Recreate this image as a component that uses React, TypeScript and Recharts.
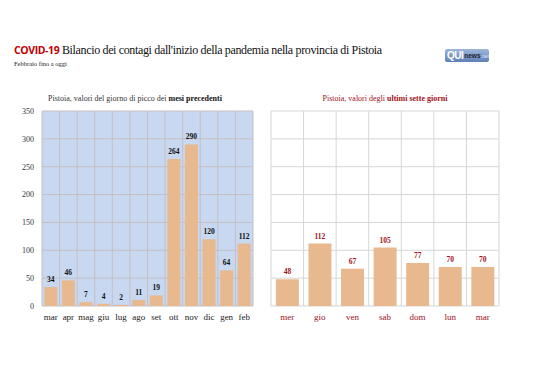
import React from "react"
import { Bar, BarChart, CartesianGrid, LabelList, XAxis, YAxis } from "recharts"

const months = ["mar", "apr", "mag", "giu", "lug", "ago", "set", "ott", "nov", "dic", "gen", "feb"]
const monthPeaks = [34, 46, 7, 4, 2, 11, 19, 264, 290, 120, 64, 112]

const days = ["mer", "gio", "ven", "sab", "dom", "lun", "mar"]
const dayValues = [48, 112, 67, 105, 77, 70, 70]

const yTicks = [0, 50, 100, 150, 200, 250, 300, 350]

const monthData = months.map((m, i) => ({ name: m, value: monthPeaks[i] }))
const dayData = days.map((d, i) => ({ name: d, value: dayValues[i] }))

const serif = "'Liberation Serif', 'DejaVu Serif', serif"
const barColor = "#e8b98e"
const red = "#a0101a"

// vertical grid lines sit on the category boundaries, not on the ticks
const boundaries = (n: number) => (props: any) => {
  const { offset } = props
  const step = offset.width / n
  return Array.from({ length: n + 1 }, (_, i) => offset.left + i * step)
}

export default function App() {
  return (
    <div style={{ position: "absolute", left: 0, top: 0, width: 538, height: 380, background: "#fff", fontFamily: serif }}>
      <div style={{ position: "absolute", left: 14, top: 43, fontSize: 12, letterSpacing: -0.35, color: "#111", whiteSpace: "nowrap" }}>
        <span style={{ fontFamily: "'Open Sans', 'Liberation Sans', sans-serif", fontWeight: 700, color: "#c00000", fontSize: 10.5, letterSpacing: -0.4 }}>COVID-19</span>{" "}
        Bilancio dei contagi dall'inizio della pandemia nella provincia di Pistoia
      </div>
      <div style={{ position: "absolute", left: 14, top: 60, fontSize: 6.5, color: "#222" }}>Febbraio fino a oggi</div>

      <div
        style={{
          position: "absolute", left: 445, top: 49, width: 44, height: 13, borderRadius: 2,
          background: "linear-gradient(#9fb6da, #5f80b6)", fontFamily: "'Liberation Sans', sans-serif",
          display: "flex", alignItems: "center", paddingLeft: 2, boxSizing: "border-box", whiteSpace: "nowrap",
        }}
      >
        <span style={{ color: "#fff", fontWeight: 700, fontSize: 10, letterSpacing: -0.5 }}>QUI</span>
        <span style={{ color: "#1c2436", fontWeight: 700, fontSize: 6.5, marginLeft: 1 }}>news</span>
        <span style={{ color: "#e4e8f2", fontSize: 5 }}>.net</span>
      </div>

      <div style={{ position: "absolute", left: 30, width: 210, top: 94, textAlign: "center", fontSize: 8, color: "#333", whiteSpace: "nowrap" }}>
        Pistoia, valori del giorno di picco dei <b style={{ color: "#111" }}>mesi precedenti</b>
      </div>
      <div style={{ position: "absolute", left: 271, width: 228, top: 94, textAlign: "center", fontSize: 8, color: red, whiteSpace: "nowrap" }}>
        Pistoia, valori degli <b>ultimi sette giorni</b>
      </div>

      <div style={{ position: "absolute", left: 0, top: 100 }}>
        <BarChart width={260} height={230} data={monthData} margin={{ top: 11, right: 7, bottom: 4, left: 12 }} barCategoryGap="13%">
          <CartesianGrid fill="#c8d8f0" stroke="#c4bfc4" verticalCoordinatesGenerator={boundaries(12)} />
          <XAxis dataKey="name" axisLine={false} tickLine={false} height={20} interval={0}
            tick={{ fontSize: 9, fill: "#222", fontFamily: serif }} />
          <YAxis domain={[0, 350]} ticks={yTicks} width={30} axisLine={false} tickLine={false}
            tick={{ fontSize: 8, fill: "#333", fontFamily: serif }} />
          <Bar dataKey="value" fill={barColor} isAnimationActive={false}>
            <LabelList dataKey="value" position="top" offset={5}
              style={{ fontSize: 7.5, fontWeight: 700, fill: "#111", fontFamily: serif }} />
          </Bar>
        </BarChart>
      </div>

      <div style={{ position: "absolute", left: 260, top: 100 }}>
        <BarChart width={250} height={230} data={dayData} margin={{ top: 11, right: 11, bottom: 4, left: 11 }} barCategoryGap="15%">
          <CartesianGrid fill="#fff" stroke="#d6d6d6" verticalCoordinatesGenerator={boundaries(7)} />
          <XAxis dataKey="name" axisLine={false} tickLine={false} height={20} interval={0}
            tick={{ fontSize: 9, fill: red, fontFamily: serif }} />
          <YAxis hide domain={[0, 350]} ticks={yTicks} />
          <Bar dataKey="value" fill={barColor} isAnimationActive={false}>
            <LabelList dataKey="value" position="top" offset={5}
              style={{ fontSize: 7.5, fontWeight: 700, fill: red, fontFamily: serif }} />
          </Bar>
        </BarChart>
      </div>
    </div>
  )
}
